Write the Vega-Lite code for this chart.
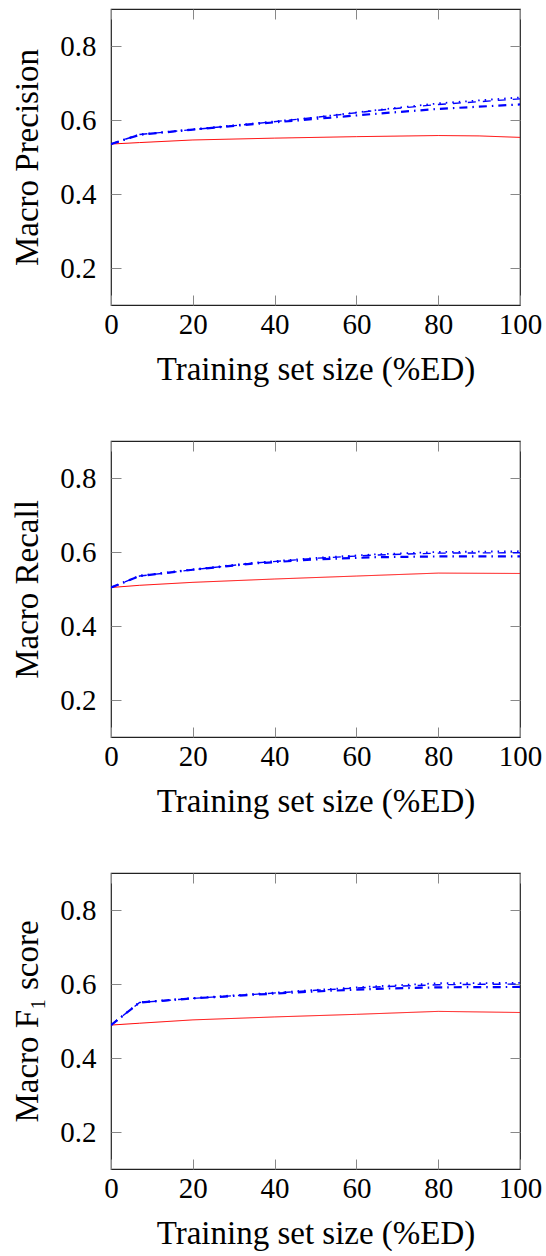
{
  "$schema": "https://vega.github.io/schema/vega-lite/v6.json",
  "autosize": {"type": "pad"},
  "padding": {"left": 11, "top": 7, "right": 5, "bottom": 0},
  "background": "white",
  "config": {
    "font": "Liberation Serif",
    "view": {"stroke": "#222", "strokeWidth": 1.2},
    "axis": {
      "labelFont": "Liberation Serif",
      "titleFont": "Liberation Serif",
      "labelFontSize": 29,
      "titleFontSize": 33,
      "titleFontWeight": "normal",
      "labelColor": "black",
      "titleColor": "black",
      "tickColor": "#888",
      "tickSize": -10,
      "tickWidth": 1,
      "domain": false,
      "grid": false,
      "labelFlush": false
    },
    "axisX": {"labelPadding": 15, "titlePadding": 14},
    "axisY": {"labelPadding": 25, "titlePadding": 15}
  },
  "datasets": {
    "curves": [
      {"panel": "P", "series": "base", "x": 0, "y": 0.535},
      {"panel": "P", "series": "base", "x": 7, "y": 0.539},
      {"panel": "P", "series": "base", "x": 20, "y": 0.546},
      {"panel": "P", "series": "base", "x": 40, "y": 0.551},
      {"panel": "P", "series": "base", "x": 60, "y": 0.555},
      {"panel": "P", "series": "base", "x": 80, "y": 0.558},
      {"panel": "P", "series": "base", "x": 90, "y": 0.557},
      {"panel": "P", "series": "base", "x": 100, "y": 0.553},
      {"panel": "P", "series": "dashed", "x": 0, "y": 0.535},
      {"panel": "P", "series": "dashed", "x": 7, "y": 0.561},
      {"panel": "P", "series": "dashed", "x": 20, "y": 0.574},
      {"panel": "P", "series": "dashed", "x": 35, "y": 0.590},
      {"panel": "P", "series": "dashed", "x": 50, "y": 0.607},
      {"panel": "P", "series": "dashed", "x": 65, "y": 0.626},
      {"panel": "P", "series": "dashed", "x": 80, "y": 0.642},
      {"panel": "P", "series": "dashed", "x": 100, "y": 0.657},
      {"panel": "P", "series": "dotted", "x": 0, "y": 0.535},
      {"panel": "P", "series": "dotted", "x": 7, "y": 0.561},
      {"panel": "P", "series": "dotted", "x": 20, "y": 0.575},
      {"panel": "P", "series": "dotted", "x": 35, "y": 0.591},
      {"panel": "P", "series": "dotted", "x": 50, "y": 0.607},
      {"panel": "P", "series": "dotted", "x": 65, "y": 0.627},
      {"panel": "P", "series": "dotted", "x": 80, "y": 0.645},
      {"panel": "P", "series": "dotted", "x": 100, "y": 0.661},
      {"panel": "P", "series": "dashdot", "x": 0, "y": 0.535},
      {"panel": "P", "series": "dashdot", "x": 7, "y": 0.560},
      {"panel": "P", "series": "dashdot", "x": 20, "y": 0.574},
      {"panel": "P", "series": "dashdot", "x": 35, "y": 0.589},
      {"panel": "P", "series": "dashdot", "x": 50, "y": 0.603},
      {"panel": "P", "series": "dashdot", "x": 65, "y": 0.617},
      {"panel": "P", "series": "dashdot", "x": 80, "y": 0.630},
      {"panel": "P", "series": "dashdot", "x": 100, "y": 0.642},

      {"panel": "R", "series": "base", "x": 0, "y": 0.504},
      {"panel": "R", "series": "base", "x": 7, "y": 0.510},
      {"panel": "R", "series": "base", "x": 20, "y": 0.518},
      {"panel": "R", "series": "base", "x": 40, "y": 0.527},
      {"panel": "R", "series": "base", "x": 60, "y": 0.535},
      {"panel": "R", "series": "base", "x": 80, "y": 0.543},
      {"panel": "R", "series": "base", "x": 100, "y": 0.542},
      {"panel": "R", "series": "dashed", "x": 0, "y": 0.504},
      {"panel": "R", "series": "dashed", "x": 7, "y": 0.535},
      {"panel": "R", "series": "dashed", "x": 20, "y": 0.552},
      {"panel": "R", "series": "dashed", "x": 35, "y": 0.570},
      {"panel": "R", "series": "dashed", "x": 50, "y": 0.583},
      {"panel": "R", "series": "dashed", "x": 65, "y": 0.592},
      {"panel": "R", "series": "dashed", "x": 80, "y": 0.597},
      {"panel": "R", "series": "dashed", "x": 100, "y": 0.598},
      {"panel": "R", "series": "dotted", "x": 0, "y": 0.504},
      {"panel": "R", "series": "dotted", "x": 7, "y": 0.536},
      {"panel": "R", "series": "dotted", "x": 20, "y": 0.553},
      {"panel": "R", "series": "dotted", "x": 35, "y": 0.571},
      {"panel": "R", "series": "dotted", "x": 50, "y": 0.584},
      {"panel": "R", "series": "dotted", "x": 65, "y": 0.594},
      {"panel": "R", "series": "dotted", "x": 80, "y": 0.600},
      {"panel": "R", "series": "dotted", "x": 100, "y": 0.602},
      {"panel": "R", "series": "dashdot", "x": 0, "y": 0.504},
      {"panel": "R", "series": "dashdot", "x": 7, "y": 0.535},
      {"panel": "R", "series": "dashdot", "x": 20, "y": 0.552},
      {"panel": "R", "series": "dashdot", "x": 35, "y": 0.569},
      {"panel": "R", "series": "dashdot", "x": 50, "y": 0.580},
      {"panel": "R", "series": "dashdot", "x": 65, "y": 0.586},
      {"panel": "R", "series": "dashdot", "x": 80, "y": 0.588},
      {"panel": "R", "series": "dashdot", "x": 100, "y": 0.588},

      {"panel": "F", "series": "base", "x": 0, "y": 0.489},
      {"panel": "F", "series": "base", "x": 7, "y": 0.494},
      {"panel": "F", "series": "base", "x": 20, "y": 0.503},
      {"panel": "F", "series": "base", "x": 40, "y": 0.511},
      {"panel": "F", "series": "base", "x": 60, "y": 0.518},
      {"panel": "F", "series": "base", "x": 80, "y": 0.526},
      {"panel": "F", "series": "base", "x": 100, "y": 0.523},
      {"panel": "F", "series": "dashed", "x": 0, "y": 0.489},
      {"panel": "F", "series": "dashed", "x": 7, "y": 0.550},
      {"panel": "F", "series": "dashed", "x": 20, "y": 0.561},
      {"panel": "F", "series": "dashed", "x": 35, "y": 0.572},
      {"panel": "F", "series": "dashed", "x": 50, "y": 0.583},
      {"panel": "F", "series": "dashed", "x": 65, "y": 0.592},
      {"panel": "F", "series": "dashed", "x": 80, "y": 0.598},
      {"panel": "F", "series": "dashed", "x": 100, "y": 0.600},
      {"panel": "F", "series": "dotted", "x": 0, "y": 0.489},
      {"panel": "F", "series": "dotted", "x": 7, "y": 0.551},
      {"panel": "F", "series": "dotted", "x": 20, "y": 0.562},
      {"panel": "F", "series": "dotted", "x": 35, "y": 0.573},
      {"panel": "F", "series": "dotted", "x": 50, "y": 0.584},
      {"panel": "F", "series": "dotted", "x": 65, "y": 0.594},
      {"panel": "F", "series": "dotted", "x": 80, "y": 0.602},
      {"panel": "F", "series": "dotted", "x": 100, "y": 0.603},
      {"panel": "F", "series": "dashdot", "x": 0, "y": 0.489},
      {"panel": "F", "series": "dashdot", "x": 7, "y": 0.550},
      {"panel": "F", "series": "dashdot", "x": 20, "y": 0.561},
      {"panel": "F", "series": "dashdot", "x": 35, "y": 0.571},
      {"panel": "F", "series": "dashdot", "x": 50, "y": 0.580},
      {"panel": "F", "series": "dashdot", "x": 65, "y": 0.587},
      {"panel": "F", "series": "dashdot", "x": 80, "y": 0.591},
      {"panel": "F", "series": "dashdot", "x": 100, "y": 0.592}
    ]
  },
  "bounds": "flush",
  "spacing": 136,
  "vconcat": [
    {
      "width": 409, "height": 296,
      "data": {"name": "curves"},
      "transform": [{"filter": "datum.panel === 'P'"}],
      "resolve": {"axis": {"x": "independent", "y": "independent"}},
      "layer": [
        {
          "mark": {"type": "line", "clip": true},
          "encoding": {
            "x": {"field": "x", "type": "quantitative", "scale": {"domain": [0, 100], "nice": false}, "axis": {"values": [0, 20, 40, 60, 80, 100], "title": "Training set size (%ED)"}},
            "y": {"field": "y", "type": "quantitative", "scale": {"domain": [0.1, 0.9], "nice": false, "zero": false}, "axis": {"values": [0.2, 0.4, 0.6, 0.8], "format": ".1f", "title": "Macro Precision"}},
            "detail": {"field": "series"},
            "color": {"field": "series", "type": "nominal", "scale": {"domain": ["base", "dashed", "dotted", "dashdot"], "range": ["#ff0000", "#0000ff", "#0000ff", "#0000ff"]}, "legend": null},
            "strokeDash": {"field": "series", "type": "nominal", "scale": {"domain": ["base", "dashed", "dotted", "dashdot"], "range": [[1, 0], [8, 7], [1.5, 5], [8, 5, 1.5, 5]]}, "legend": null},
            "strokeWidth": {"field": "series", "type": "nominal", "scale": {"domain": ["base", "dashed", "dotted", "dashdot"], "range": [1, 2.2, 2.2, 2.2]}, "legend": null}
          }
        },
        {
          "mark": {"type": "line", "opacity": 0},
          "encoding": {
            "x": {"field": "x", "type": "quantitative", "axis": {"orient": "top", "values": [0, 20, 40, 60, 80, 100], "labels": false, "title": null}},
            "y": {"field": "y", "type": "quantitative", "axis": {"orient": "right", "values": [0.2, 0.4, 0.6, 0.8], "labels": false, "title": null}},
            "detail": {"field": "series"}
          }
        }
      ]
    },
    {
      "width": 409, "height": 296,
      "data": {"name": "curves"},
      "transform": [{"filter": "datum.panel === 'R'"}],
      "resolve": {"axis": {"x": "independent", "y": "independent"}},
      "layer": [
        {
          "mark": {"type": "line", "clip": true},
          "encoding": {
            "x": {"field": "x", "type": "quantitative", "scale": {"domain": [0, 100], "nice": false}, "axis": {"values": [0, 20, 40, 60, 80, 100], "title": "Training set size (%ED)"}},
            "y": {"field": "y", "type": "quantitative", "scale": {"domain": [0.1, 0.9], "nice": false, "zero": false}, "axis": {"values": [0.2, 0.4, 0.6, 0.8], "format": ".1f", "title": "Macro Recall"}},
            "detail": {"field": "series"},
            "color": {"field": "series", "type": "nominal", "scale": {"domain": ["base", "dashed", "dotted", "dashdot"], "range": ["#ff0000", "#0000ff", "#0000ff", "#0000ff"]}, "legend": null},
            "strokeDash": {"field": "series", "type": "nominal", "scale": {"domain": ["base", "dashed", "dotted", "dashdot"], "range": [[1, 0], [8, 7], [1.5, 5], [8, 5, 1.5, 5]]}, "legend": null},
            "strokeWidth": {"field": "series", "type": "nominal", "scale": {"domain": ["base", "dashed", "dotted", "dashdot"], "range": [1, 2.2, 2.2, 2.2]}, "legend": null}
          }
        },
        {
          "mark": {"type": "line", "opacity": 0},
          "encoding": {
            "x": {"field": "x", "type": "quantitative", "axis": {"orient": "top", "values": [0, 20, 40, 60, 80, 100], "labels": false, "title": null}},
            "y": {"field": "y", "type": "quantitative", "axis": {"orient": "right", "values": [0.2, 0.4, 0.6, 0.8], "labels": false, "title": null}},
            "detail": {"field": "series"}
          }
        }
      ]
    },
    {
      "width": 409, "height": 296,
      "data": {"name": "curves"},
      "transform": [{"filter": "datum.panel === 'F'"}],
      "resolve": {"axis": {"x": "independent", "y": "independent"}},
      "layer": [
        {
          "mark": {"type": "line", "clip": true},
          "encoding": {
            "x": {"field": "x", "type": "quantitative", "scale": {"domain": [0, 100], "nice": false}, "axis": {"values": [0, 20, 40, 60, 80, 100], "title": "Training set size (%ED)"}},
            "y": {"field": "y", "type": "quantitative", "scale": {"domain": [0.1, 0.9], "nice": false, "zero": false}, "axis": {"values": [0.2, 0.4, 0.6, 0.8], "format": ".1f", "title": "Macro F₁ score"}},
            "detail": {"field": "series"},
            "color": {"field": "series", "type": "nominal", "scale": {"domain": ["base", "dashed", "dotted", "dashdot"], "range": ["#ff0000", "#0000ff", "#0000ff", "#0000ff"]}, "legend": null},
            "strokeDash": {"field": "series", "type": "nominal", "scale": {"domain": ["base", "dashed", "dotted", "dashdot"], "range": [[1, 0], [8, 7], [1.5, 5], [8, 5, 1.5, 5]]}, "legend": null},
            "strokeWidth": {"field": "series", "type": "nominal", "scale": {"domain": ["base", "dashed", "dotted", "dashdot"], "range": [1, 2.2, 2.2, 2.2]}, "legend": null}
          }
        },
        {
          "mark": {"type": "line", "opacity": 0},
          "encoding": {
            "x": {"field": "x", "type": "quantitative", "axis": {"orient": "top", "values": [0, 20, 40, 60, 80, 100], "labels": false, "title": null}},
            "y": {"field": "y", "type": "quantitative", "axis": {"orient": "right", "values": [0.2, 0.4, 0.6, 0.8], "labels": false, "title": null}},
            "detail": {"field": "series"}
          }
        }
      ]
    }
  ]
}
